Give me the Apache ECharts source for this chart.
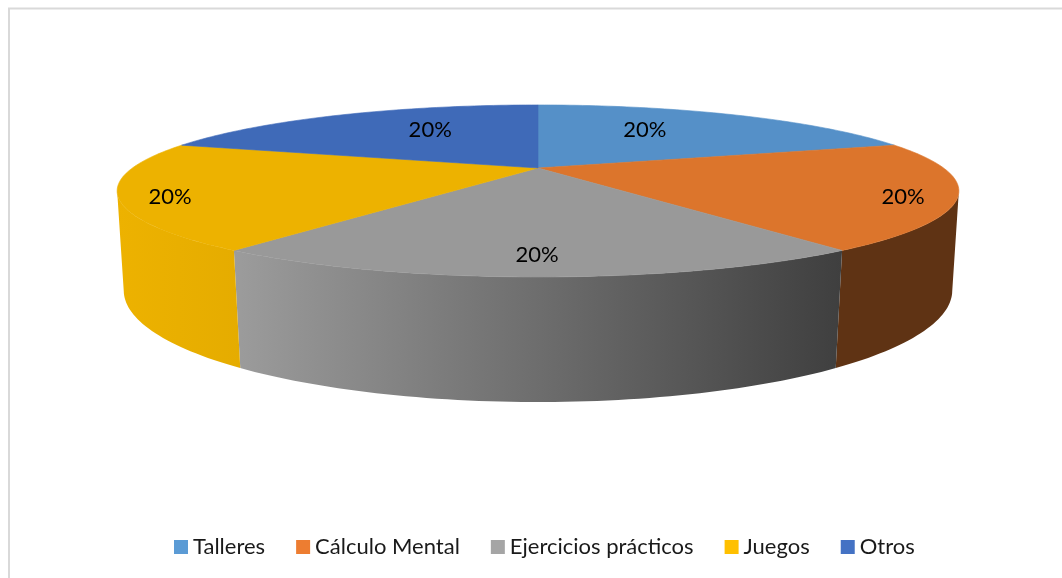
<!DOCTYPE html>
<html><head><meta charset="utf-8">
<style>html,body{margin:0;padding:0;background:#fff}#c{width:1062px;height:578px}</style>
<script src="https://cdn.jsdelivr.net/npm/echarts@6/dist/echarts.min.js"></script>
</head><body><div id="c"></div>
<script>
const categories = ['Talleres','Cálculo Mental','Ejercicios prácticos','Juegos','Otros'];
const values = [20,20,20,20,20];
const legendColors = ['#5b9bd5','#ed7d31','#a5a5a5','#ffc000','#4472c4'];
const topColors = ['#5590c8','#dc752c','#999999','#edb200','#3f6ab8'];

// perspective projection of the unit disc: top face and bottom face of the cylinder
const TOP = {cx:538, cy:168, A:405.6, B:79.9, k:0.267};
const BOT = {cx:538, cy:261.5, A:400, B:104, k:0.26};
const SIL = Math.acos(-0.265); // angle where the wall silhouette starts
const LABEL_R = [0.42,0.88,0.84,0.88,0.42];
const LABEL_DX = [15,-1,-1,-2,-16];
const LABEL_DY = [-13,5,0,5,-13];

function proj(P,th,r){ r=r==null?1:r;
  const X=r*Math.sin(th),Y=r*Math.cos(th),w=1+P.k*Y;
  return [P.cx+P.A*X/w,P.cy-P.B*Y/w];
}
function arc(P,a,b){const n=Math.max(2,Math.ceil(Math.abs(b-a)/0.02)),o=[];
  for(let i=0;i<=n;i++)o.push(proj(P,a+(b-a)*i/n));return o;}
const total=values.reduce((s,v)=>s+v,0);
const starts=[];values.reduce((s,v,i)=>{starts[i]=s;return s+v},0);

function wallFill(a,b,i){
  if(i===2) return new echarts.graphic.LinearGradient(234,0,841,0,[{offset:0,color:'#9c9c9c'},{offset:1,color:'#3f3f3f'}],true);
  if(i===1) return '#5f3314';
  return new echarts.graphic.LinearGradient(117,0,241,0,[{offset:0,color:'#edb200'},{offset:1,color:'#e5ac00'}],true);
}
function render(i){
  return function(params,api){
    const a=starts[i]/total*2*Math.PI,b=(starts[i]+api.value(0))/total*2*Math.PI;
    const children=[];
    const wa=Math.max(a,SIL),wb=Math.min(b,2*Math.PI-SIL);
    if(wb>wa){
      const pts=arc(TOP,wa,wb).concat(arc(BOT,wa,wb).reverse());
      children.push({type:'polygon',z2:1,shape:{points:pts},style:{fill:wallFill(wa,wb,i)}});
    }
    const topPts=[proj(TOP,0,0)].concat(arc(TOP,a,b));
    children.push({type:'polygon',z2:2,shape:{points:topPts},style:{fill:topColors[i],stroke:topColors[i],lineWidth:0.6}});
    const m=(a+b)/2,l=proj(TOP,m,LABEL_R[i]);
    children.push({type:'text',z2:3,x:l[0]+LABEL_DX[i],y:l[1]+LABEL_DY[i],style:{
      text:Math.round(api.value(0)/total*100)+'%',fill:'#000',font:'22px Lato',align:'center',verticalAlign:'middle'}});
    return {type:'group',children};
  };
}
const chart=echarts.init(document.getElementById('c'),null,{renderer:'canvas'});
chart.setOption({
  animation:false,backgroundColor:'#fff',
  graphic:[{type:'rect',z:-1,shape:{x:9,y:8.5,width:1200,height:900},style:{fill:'none',stroke:'#d9d9d9',lineWidth:2}}],
  legend:{left:169,top:531,itemWidth:14,itemHeight:14,itemGap:31,icon:'rect',
    textStyle:{fontFamily:'Lato',fontSize:22,color:'#1a1a1a'},data:categories},
  series:categories.map((n,i)=>({type:'custom',name:n,coordinateSystem:'none',
    itemStyle:{color:legendColors[i]},data:[[values[i]]],renderItem:render(i),silent:true}))
});
</script></body></html>
